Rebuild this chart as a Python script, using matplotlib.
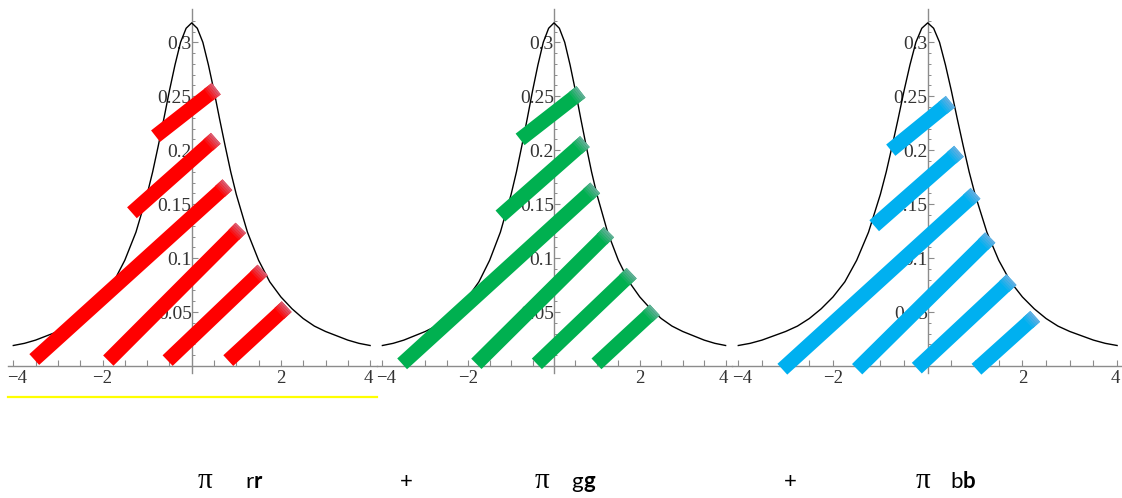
import numpy as np
import matplotlib
matplotlib.use('Agg')
from matplotlib import pyplot as plt
from matplotlib.lines import Line2D
from matplotlib.ticker import FixedLocator
from matplotlib.colors import to_rgb
from matplotlib.transforms import ScaledTranslation

# density curve (same curve in all three panels)
curve_x = [-4, -3.75, -3.5, -3.25, -3, -2.75, -2.5, -2.25, -2, -1.75, -1.5, -1.25,
           -1, -0.875, -0.75, -0.625, -0.5, -0.375, -0.25, -0.125, 0,
           0.125, 0.25, 0.375, 0.5, 0.625, 0.75, 0.875, 1,
           1.25, 1.5, 1.75, 2, 2.25, 2.5, 2.75, 3, 3.25, 3.5, 3.75, 4]
curve_y = [0.019, 0.021, 0.024, 0.028, 0.032, 0.037, 0.044, 0.053, 0.064, 0.078, 0.098, 0.124,
           0.159, 0.180, 0.204, 0.229, 0.255, 0.279, 0.300, 0.313, 0.318,
           0.313, 0.300, 0.279, 0.255, 0.229, 0.204, 0.180, 0.159,
           0.124, 0.098, 0.078, 0.064, 0.053, 0.044, 0.037, 0.032, 0.028, 0.024, 0.021, 0.019]

# stripes: start / end points in data units, one set per panel
red_x0 = [-3.53, -1.87, -0.54, 0.82, -1.34, -0.81]
red_y0 = [0.006, 0.005, 0.005, 0.005, 0.142, 0.213]
red_x1 = [0.80, 1.10, 1.59, 2.13, 0.54, 0.55]
red_y1 = [0.168, 0.128, 0.089, 0.055, 0.211, 0.257]

green_x0 = [-3.54, -1.81, -0.40, 0.99, -1.25, -0.79]
green_y0 = [0.002, 0.002, 0.002, 0.002, 0.139, 0.210]
green_x1 = [0.96, 1.28, 1.81, 2.35, 0.72, 0.63]
green_y1 = [0.165, 0.124, 0.086, 0.052, 0.208, 0.254]

blue_x0 = [-3.07, -1.49, -0.23, 1.03, -1.13, -0.78]
blue_y0 = [-0.003, -0.003, -0.002, -0.003, 0.130, 0.200]
blue_x1 = [1.01, 1.32, 1.77, 2.27, 0.66, 0.48]
blue_y1 = [0.160, 0.119, 0.080, 0.046, 0.199, 0.245]

xticks_major = [-4, -2, 2, 4]
xtick_labels = ['\u22124', '\u22122', '2', '4']
xticks_minor = [-3.5, -3, -2.5, -1.5, -1, -0.5, 0.5, 1, 1.5, 2.5, 3, 3.5]
yticks_major = [0.05, 0.1, 0.15, 0.2, 0.25, 0.3]
ytick_labels = ['0.05', '0.1', '0.15', '0.2', '0.25', '0.3']
yticks_minor = [v / 100 for v in range(1, 33) if v % 5 != 0]

W, H = 1122, 498
fig = plt.figure(figsize=(W / 100, H / 100), dpi=100)

serif = ['Liberation Serif', 'DejaVu Serif']
axcol = '#8c8c8c'


def setup_panel(x0, ux, left, right, top=9, bottom=373, y0=366, uy=1079):
    ax = fig.add_axes([left / W, 1 - bottom / H, (right - left) / W, (bottom - top) / H])
    ax.patch.set_visible(False)
    ax.set_xlim((left - x0) / ux, (right - x0) / ux)
    ax.set_ylim((y0 - bottom) / uy, (y0 - top) / uy)
    ax.spines['right'].set_visible(False)
    ax.spines['top'].set_visible(False)
    ax.spines['left'].set_position(('data', 0))
    ax.spines['bottom'].set_position(('data', 0))
    for s in ['left', 'bottom']:
        ax.spines[s].set_color(axcol)
        ax.spines[s].set_linewidth(1.0)
    ax.xaxis.set_major_locator(FixedLocator(xticks_major))
    ax.xaxis.set_minor_locator(FixedLocator(xticks_minor))
    ax.set_xticklabels(xtick_labels, fontfamily=serif, fontsize=13.5, color='#333333')
    ax.yaxis.set_major_locator(FixedLocator(yticks_major))
    ax.yaxis.set_minor_locator(FixedLocator(yticks_minor))
    ax.set_yticklabels(ytick_labels, fontfamily=serif, fontsize=14, color='#333333')
    ax.tick_params(axis='x', which='both', direction='in', length=4.5, width=0.8,
                   color=axcol, pad=3)
    ax.tick_params(axis='y', which='major', direction='in', length=4, width=0.8,
                   color=axcol, pad=0)
    ax.tick_params(axis='y', which='minor', direction='in', length=2, width=0.7,
                   color=axcol)
    # labels at the panel edges sit a little apart, as in the picture
    labs = ax.get_xticklabels()
    labs[0].set_transform(labs[0].get_transform() + ScaledTranslation(4 / 100, 0, fig.dpi_scale_trans))
    labs[-1].set_transform(labs[-1].get_transform() + ScaledTranslation(-2 / 100, 0, fig.dpi_scale_trans))
    ax.plot(curve_x, curve_y, color='black', lw=1.0, zorder=3)
    return ax


def stripes(ax, xs, ys, xe, ye, col, ux, uy=1079):
    base = np.array(to_rgb(col))
    tint = np.array(to_rgb('#b8acd4'))
    for a, b, c, d in zip(xs, ys, xe, ye):
        ax.plot([a, c], [b, d], color=col, lw=10.5, solid_capstyle='butt',
                zorder=6, clip_on=False)
        # faded top end, roughly the last 10 px of each stripe
        plen = np.hypot((c - a) * ux, (d - b) * uy)
        f0 = 1 - 10 / plen
        n = 5
        for k in range(n):
            t0 = f0 + (1 - f0) * k / n
            t1 = f0 + (1 - f0) * (k + 1) / n
            mix = 0.55 * (k + 1) / n
            ax.plot([a + (c - a) * t0, a + (c - a) * t1],
                    [b + (d - b) * t0, b + (d - b) * t1],
                    color=base * (1 - mix) + tint * mix, lw=10.5,
                    solid_capstyle='butt', zorder=7, clip_on=False)


ax1 = setup_panel(191.7, 44.6, 8, 377)
ax2 = setup_panel(554.0, 42.9, 377, 732)
ax3 = setup_panel(927.7, 47.35, 732, 1122)

stripes(ax1, red_x0, red_y0, red_x1, red_y1, '#ff0000', 44.6)
stripes(ax2, green_x0, green_y0, green_x1, green_y1, '#00b050', 42.9)
stripes(ax3, blue_x0, blue_y0, blue_x1, blue_y1, '#00b0f0', 47.35)

# yellow underline below the first panel
fig.add_artist(Line2D([8 / W, 377 / W], [1 - 396.5 / H, 1 - 396.5 / H],
                      color='#ffff00', lw=1.6))

# formula row at the bottom
base = 1 - 488 / H
sans = ['Lato', 'DejaVu Sans']
fsz = 16
psz = 21
fig.text(205 / W, base, '\u03c0', family=serif, size=psz, ha='center', va='baseline')
fig.text(254 / W, base, 'r', family=sans, size=fsz, ha='right', va='baseline')
fig.text(254 / W, base, 'r', family=sans, size=fsz, weight='bold', ha='left', va='baseline')
fig.text(406 / W, base, '+', family=sans, size=fsz, ha='center', va='baseline')
fig.text(542 / W, base, '\u03c0', family=serif, size=psz, ha='center', va='baseline')
fig.text(583 / W, base, 'g', family=sans, size=fsz, ha='right', va='baseline')
fig.text(583 / W, base, 'g', family=sans, size=fsz, weight='bold', ha='left', va='baseline')
fig.text(790 / W, base, '+', family=sans, size=fsz, ha='center', va='baseline')
fig.text(923 / W, base, '\u03c0', family=serif, size=psz, ha='center', va='baseline')
fig.text(963 / W, base, 'b', family=sans, size=fsz, ha='right', va='baseline')
fig.text(963 / W, base, 'b', family=sans, size=fsz, weight='bold', ha='left', va='baseline')

fig.savefig('out.png', dpi=100)
